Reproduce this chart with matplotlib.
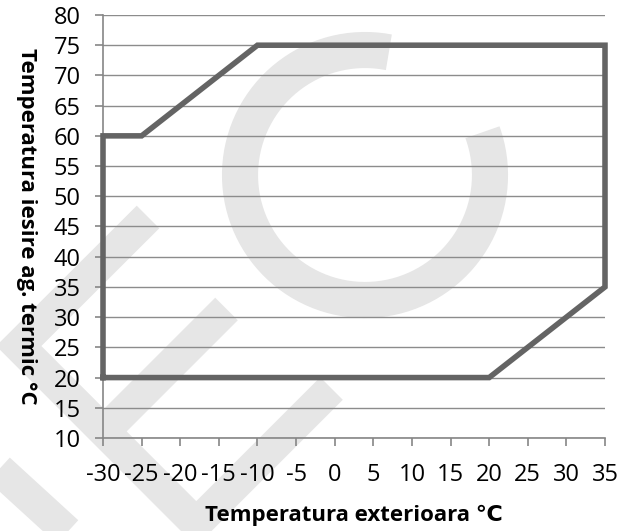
import numpy as np
import matplotlib.pyplot as plt
from matplotlib.lines import Line2D

# outline of the working area (outside temp, outlet temp)
t_ext = [-30, -30, -25, -10, 35, 35, 20, -30]
t_out = [20, 60, 60, 75, 75, 35, 20, 20]

x_ticks = list(range(-30, 40, 5))
y_ticks = list(range(10, 85, 5))

fonts = ['Open Sans', 'DejaVu Sans']
plt.rcParams['font.family'] = fonts
plt.rcParams['axes.unicode_minus'] = False

W, H = 636, 531
fig = plt.figure(figsize=(W / 100, H / 100), dpi=100)

# light watermark in the background (pixel coords, y from top)
def px(x, y):
    return x / W, 1 - y / H

wm = '#e6e6e6'
bands = [
    [(148, 217), (18.75, 346), (214, 541.5)],
    [(226.5, 309), (104, 431.5)],
    [(331.5, 388.5), (196, 524)],
    [(-20, 452), (85, 548)],
]
for b in bands:
    xs, ys = zip(*[px(*p) for p in b])
    fig.add_artist(Line2D(xs, ys, color=wm, lw=23, solid_capstyle='butt',
                          solid_joinstyle='miter', zorder=-5))
ang = np.radians(np.linspace(79, 380, 200))
arc = [px(365 + 125 * np.cos(a), 175 - 125 * np.sin(a)) for a in ang]
xs, ys = zip(*arc)
fig.add_artist(Line2D(xs, ys, color=wm, lw=26, solid_capstyle='butt',
                      zorder=-5))

ax = fig.add_axes([103 / W, 1 - 438 / H, 502 / W, 423 / H])
ax.set_facecolor('none')
ax.plot(t_ext, t_out, color='#646464', lw=4, clip_on=False,
        solid_joinstyle='miter', zorder=3)

ax.set_xlim(-30, 35)
ax.set_ylim(10, 80)
ax.set_xticks(x_ticks)
ax.set_yticks(y_ticks)
ax.grid(axis='y', color='#8c8c8c', lw=1)
ax.set_axisbelow(True)
for s in ['top', 'right']:
    ax.spines[s].set_visible(False)
for s in ['left', 'bottom']:
    ax.spines[s].set_color('#868686')
    ax.spines[s].set_linewidth(1.2)
ax.tick_params(axis='both', color='#868686', length=6, width=1.2,
               labelsize=17, labelcolor='black')
ax.tick_params(axis='y', pad=10)
ax.tick_params(axis='x', pad=12)

ax.set_xlabel('Temperatura exterioara ℃', fontsize=16, fontweight='bold',
              labelpad=13)
ax.set_ylabel('Temperatura iesire ag. termic °C', fontsize=16,
              fontweight='bold', rotation=-90, va='center')
ax.yaxis.set_label_coords(-0.152, 0.5)

fig.savefig('out.png', dpi=100)
